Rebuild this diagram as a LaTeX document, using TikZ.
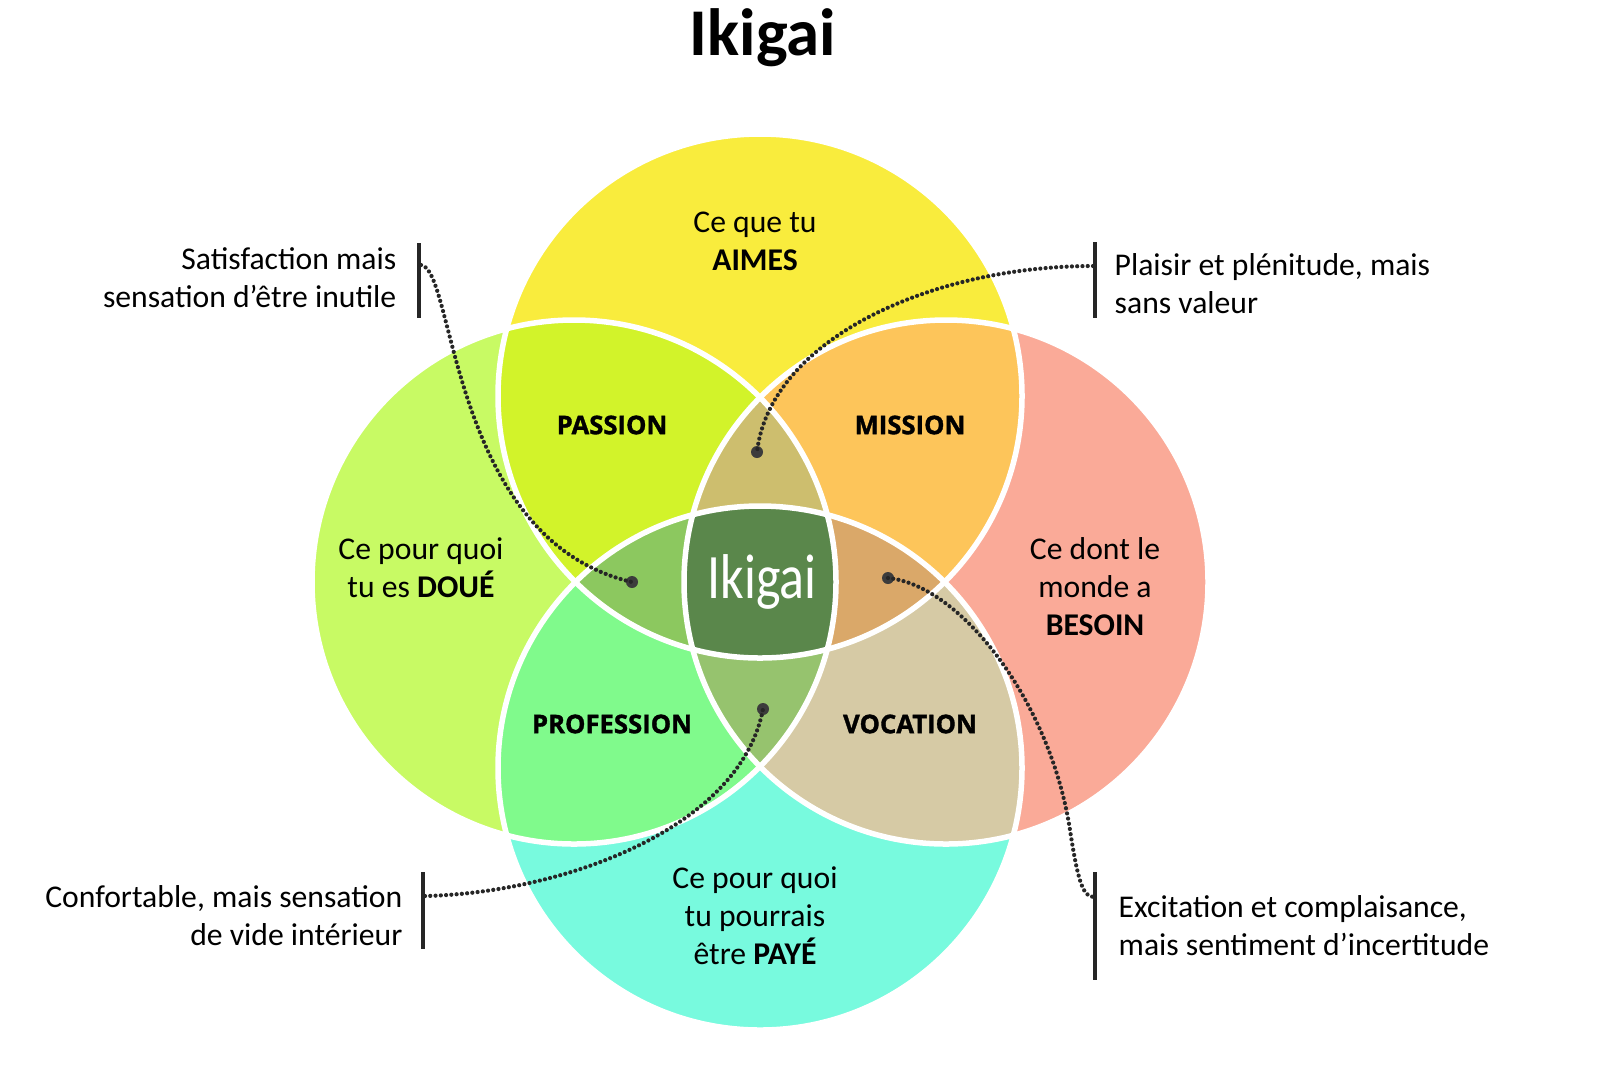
\documentclass[tikz,border=0pt]{standalone}
\usepackage{fontspec}
\setmainfont{Carlito}
\newfontfamily\labelfont{Open Sans}[UprightFont=* Bold, FakeBold=1.3]
\usetikzlibrary{positioning}
\definecolor{aimesBg}{HTML}{F9EC3D}
\definecolor{doueBg}{HTML}{C8FA64}
\definecolor{besoinBg}{HTML}{FAAA98}
\definecolor{payeBg}{HTML}{78FADE}
\definecolor{passionBg}{HTML}{D2F32A}
\definecolor{missionBg}{HTML}{FDC55A}
\definecolor{professionBg}{HTML}{80FA8C}
\definecolor{vocationBg}{HTML}{D6CAA5}
\definecolor{upperBg}{HTML}{CDBE6E}
\definecolor{leftBg}{HTML}{8CC85F}
\definecolor{rightBg}{HTML}{DAA869}
\definecolor{lowerBg}{HTML}{96C36E}
\definecolor{coreBg}{HTML}{5A874B}
\definecolor{inkgray}{HTML}{262626}
\tikzset{
  bodytext/.style={
    inner sep=0pt, align=center, font=\fontsize{9}{10.8}\selectfont,
  },
  calloutText/.style={
    bodytext, text=black,
  },
  zonelabel/.style={
    inner sep=0pt, font=\labelfont\fontsize{7.3}{9}\selectfont,
  },
  ring/.style={
    draw=white, line width=0.055cm,
  },
  leader/.style={
    draw=inkgray, line width=1.2pt, line cap=round,
    dash pattern=on 0pt off 1.5pt,
  },
  pin/.style={
    circle, fill=inkgray!90, inner sep=0pt, minimum size=0.12cm,
  },
  bar/.style={
    draw=inkgray, line width=1pt,
  },
}

\begin{document}
\begin{tikzpicture}[x=0.01cm, y=-0.01cm]

\fill[white] (0,0) rectangle (1600,1069);
\useasboundingbox (0,0) rectangle (1600,1069);

\coordinate (cTop)   at (760,396);
\coordinate (cBot)   at (760,768);
\coordinate (cLeft)  at (574,582);
\coordinate (cRight) at (946,582);

% the four circles
\foreach \c/\col in {cTop/aimesBg, cLeft/doueBg, cRight/besoinBg, cBot/payeBg}
  \fill[\col] (\c) circle (262);

% two by two
\foreach \a/\b/\col in {cTop/cLeft/passionBg, cTop/cRight/missionBg,%
  cBot/cLeft/professionBg, cBot/cRight/vocationBg}
{
  \begin{scope}
    \clip (\a) circle (262);
    \fill[\col] (\b) circle (262);
  \end{scope}
}

% three by three
\foreach \a/\b/\c/\col in {cTop/cLeft/cRight/upperBg, cTop/cLeft/cBot/leftBg,%
  cTop/cRight/cBot/rightBg, cBot/cLeft/cRight/lowerBg}
{
  \begin{scope}
    \clip (\a) circle (262);
    \clip (\b) circle (262);
    \fill[\col] (\c) circle (262);
  \end{scope}
}

\begin{scope}
  \clip (cTop) circle (262);
  \clip (cBot) circle (262);
  \clip (cLeft) circle (262);
  \fill[coreBg] (cRight) circle (262);
\end{scope}

\foreach \c in {cTop, cLeft, cRight, cBot}
  \draw[ring] (\c) circle (262);

\node[anchor=base, inner sep=0pt, font=\bfseries\fontsize{19}{22}\selectfont]
  (title) at (763,55) {Ikigai};

\node[bodytext] (aimes)  at (755,241) {Ce que tu\\\textbf{AIMES}};
\node[bodytext] (doue)   at (421,568) {Ce pour quoi\\tu es \textbf{DOUÉ}};
\node[bodytext] (besoin) at (1095,587) {Ce dont le\\monde a\\\textbf{BESOIN}};
\node[bodytext] (paye)   at (755,916) {Ce pour quoi\\tu pourrais\\être \textbf{PAYÉ}};

\node[zonelabel] (passion)    at (612,425) {PASSION};
\node[zonelabel] (mission)    at (910,425) {MISSION};
\node[zonelabel] (profession) at (612,724) {PROFESSION};
\node[zonelabel] (vocation)   at (910,724) {VOCATION};

\node[inner sep=0pt, text=white, font=\fontsize{18}{20}\selectfont]
  (core) at (762,582) {\scalebox{0.82}[1]{Ikigai}};

% side notes
\node[calloutText, anchor=east, align=right] (noteTL) at (397,278)
  {Satisfaction mais\\sensation d’être inutile};
\node[calloutText, anchor=west, align=left] (noteTR) at (1114,284)
  {Plaisir et plénitude, mais\\sans valeur};
\node[calloutText, anchor=east, align=right] (noteBL) at (403,916)
  {Confortable, mais sensation\\de vide intérieur};
\node[calloutText, anchor=west, align=left] (noteBR) at (1118,926)
  {Excitation et complaisance,\\mais sentiment d’incertitude};

\draw[bar] (419,243) -- (419,318);
\draw[bar] (1095,242) -- (1095,318);
\draw[bar] (423,872) -- (423,949);
\draw[bar] (1095,872) -- (1095,980);

\coordinate (tipTL) at (421,265);
\coordinate (tipTR) at (1093,266);
\coordinate (tipBL) at (425,896);
\coordinate (tipBR) at (1094,897);

\node[pin] (pinTL) at (632,582) {};
\node[pin] (pinTR) at (757,452) {};
\node[pin] (pinBL) at (763,709) {};
\node[pin] (pinBR) at (888,578) {};

\draw[leader] (tipTL) .. controls (455,268) and (450,540) .. (pinTL.center);
\draw[leader] (tipTR) .. controls (930,266) and (770,340) .. (pinTR.center);
\draw[leader] (tipBL) .. controls (560,893) and (740,830) .. (pinBL.center);
\draw[leader] (pinBR.center) .. controls (960,585) and (1050,700) .. (1070,830)
  .. controls (1078,882) and (1083,897) .. (tipBR);

\end{tikzpicture}
\end{document}
